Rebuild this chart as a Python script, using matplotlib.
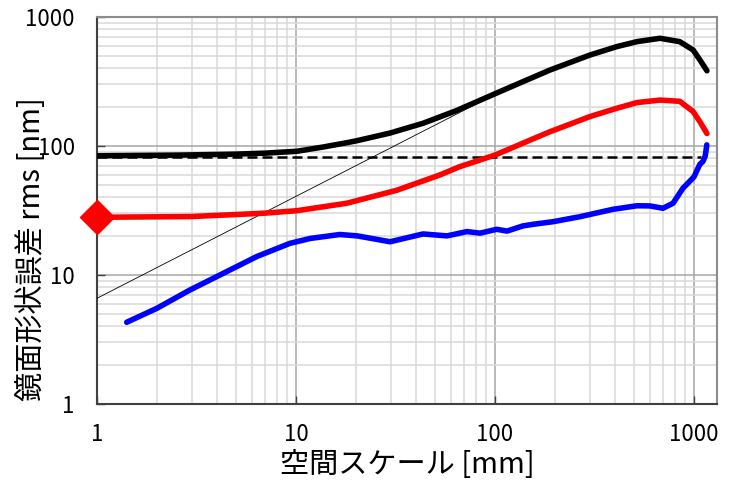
import numpy as np
import matplotlib
matplotlib.use("Agg")
import matplotlib.pyplot as plt
from matplotlib.ticker import FixedLocator, NullFormatter, LogLocator

plt.rcParams['font.family'] = ['Noto Sans CJK JP', 'DejaVu Sans']

# total figure error (black)
total_x = [1, 2.6, 5, 7, 10.1, 13.6, 18, 20.3, 29.7, 43.5, 64, 100, 138, 189, 300, 409, 517, 675, 848, 990, 1072, 1162]
total_y = [84, 85, 86.5, 88, 91, 98, 106, 110, 126, 150, 188, 254, 315, 388, 507, 589, 644, 684, 644, 555, 464, 383]

# red curve
red_x = [1, 3, 6.85, 10.1, 18, 32, 52.8, 66.6, 100, 150, 189, 300, 409, 517, 675, 848, 990, 1072, 1162]
red_y = [28, 28.4, 30.1, 31.5, 36, 45.3, 59.6, 69.2, 85, 111, 129, 169, 196, 217, 227, 222, 185, 154, 125]

# blue curve
blue_x = [1.41, 2.0, 2.93, 4.31, 6.35, 9.33, 11.8, 16.6, 20.3, 29.7, 43.5, 57.4, 72.3, 84.1,
          102, 115, 138, 155, 196, 267, 392, 517, 601, 699, 785, 880, 1000, 1070, 1110, 1140, 1160]
blue_y = [4.3, 5.52, 7.65, 10.3, 13.9, 17.6, 19.2, 20.6, 20.1, 18.1, 20.8, 20.1, 21.7, 21.1,
          22.6, 21.9, 24.0, 24.7, 25.9, 28.3, 32.3, 34.4, 34.3, 32.9, 36.0, 47, 57.6, 72, 76, 84, 102]

# reference slope line and flat level
slope_x = [1, 120]
slope_y = [6.6, 290]
level_x = [1, 1080]
level_y = [82, 82]

start_x = [1]
start_y = [28]

xticks = [1, 10, 100, 1000]
xtick_labels = ['1', '10', '100', '1000']
yticks = [1, 10, 100, 1000]
ytick_labels = ['1', '10', '100', '1000']

fig = plt.figure(figsize=(7.31, 4.84), dpi=100)
ax = fig.add_axes([0.1327, 0.1653, 0.8481, 0.7996])
ax.set_xscale('log')
ax.set_yscale('log')
ax.set_xlim(1, 1305)
ax.set_ylim(1, 1000)

ax.plot(slope_x, slope_y, color='black', lw=0.6, zorder=3)
ax.plot(level_x, level_y, color='black', lw=1.8, ls=(0, (4, 2)), zorder=3)
ax.plot(total_x, total_y, color='black', lw=4, solid_capstyle='round', zorder=4)
ax.plot(red_x, red_y, color='#ff0000', lw=4, solid_capstyle='round', zorder=4)
ax.plot(blue_x, blue_y, color='#0000ff', lw=4, solid_capstyle='round', zorder=4)
ax.plot(start_x, start_y, marker='D', ms=17, color='#ff0000', ls='none', clip_on=False, zorder=6)

# grid
ax.xaxis.set_minor_locator(LogLocator(base=10, subs=np.arange(2, 10)))
ax.yaxis.set_minor_locator(LogLocator(base=10, subs=np.arange(2, 10)))
ax.xaxis.set_minor_formatter(NullFormatter())
ax.yaxis.set_minor_formatter(NullFormatter())
ax.grid(which='minor', color='#d9d9d9', lw=1.1, zorder=0)
ax.grid(which='major', color='#a6a6a6', lw=1.1, zorder=0)
ax.set_axisbelow(True)

ax.xaxis.set_major_locator(FixedLocator(xticks))
ax.set_xticklabels(xtick_labels)
ax.yaxis.set_major_locator(FixedLocator(yticks))
ax.set_yticklabels(ytick_labels)
ax.tick_params(which='major', direction='in', length=6, width=1, color='#404040',
               labelsize=16, pad=16)
ax.tick_params(axis='x', pad=14)
ax.tick_params(which='minor', length=0)

for side in ['left', 'bottom']:
    ax.spines[side].set_color('#404040')
    ax.spines[side].set_linewidth(1.5)
for side in ['top', 'right']:
    ax.spines[side].set_color('#8c8c8c')
    ax.spines[side].set_linewidth(1.5)

fig.text(0.557, 0.039, '空間スケール [mm]', fontsize=21, ha='center', va='center')
fig.text(32 / 731, 1 - 249 / 484, '鏡面形状誤差 rms [nm]', fontsize=21,
         ha='center', va='center', rotation=90)

fig.savefig('out.png', dpi=100)
